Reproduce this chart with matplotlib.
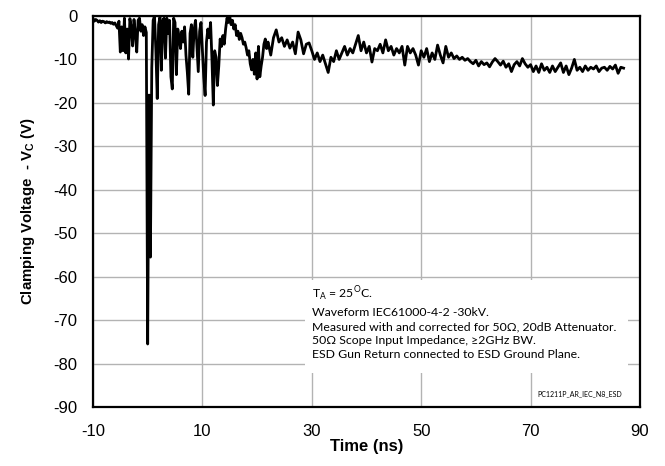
import numpy as np
import matplotlib
matplotlib.use("Agg")
import matplotlib.pyplot as plt
from matplotlib.patches import Rectangle

v_fast = [
    -0.6, -1.2, -0.8, -1.0, -1.4, -1.1, -1.5, -1.2, -1.3, -1.6,
    -1.3, -1.5, -1.4, -1.7, -1.5, -1.9, -1.6, -2.2, -2.8,
    -1.2, -8.3, -2.5, -8.0, -0.5, -8.5, -3.0, -9.9, -0.6, -2.5,
    -6.9, -0.8, -4.0, -8.3, -1.0, -0.5, -3.5, -2.0, -4.5, -2.5, -3.8,
    -75.5, -18.2, -55.5, -12.0, -1.0, 0.0, -8.0, -19.0, -2.0, -0.3,
    -12.5, -1.0, -0.5, -9.7, -0.5, -4.0, -1.0, -14.0, -16.8, -0.5,
    -1.5, -13.5, -3.0, -4.8, -7.5, -3.5, -6.0, -2.5, -9.0, -13.0,
    -18.0, -4.0, -2.0, -9.5, -3.0, -1.0, -7.0, -12.8, -3.5, -1.5,
    -8.0, -14.0, -18.3, -6.0, -3.0, -5.0, -1.5, -10.0, -20.5, -8.0,
    -9.5, -16.0, -11.5, -5.3, -7.0, -4.5, -6.5, -3.0, -0.5, -1.5,
    0.0, -2.0, -1.0, -3.0, -2.0, -4.5, -3.5, -5.4, -4.0, -5.0,
    -6.5, -6.0, -7.3, -9.0, -8.0, -11.0, -12.4, -10.0, -13.4, -8.5,
    -14.5, -7.0, -14.0, -11.5, -9.5, -6.5, -5.3, -7.5, -6.0,
]

# 0.5 ns steps from 22.5 ns to 87 ns
v_slow = [
    -9.0, -5.0, -3.2, -6.0, -5.0, -7.0, -5.5, -7.4, -6.0, -8.7,
    -3.7, -5.5, -8.7, -6.5, -6.2, -8.0, -10.0, -8.5, -10.5, -9.0,
    -11.0, -13.0, -9.5, -10.5, -8.0, -10.0, -8.5, -7.0, -9.0, -7.5,
    -8.5, -6.5, -4.5, -8.0, -6.0, -8.5, -7.0, -10.6, -7.5, -8.0,
    -6.5, -8.5, -5.5, -8.0, -7.0, -9.0, -7.5, -8.5, -7.0, -11.3,
    -7.0, -8.5, -7.5, -9.0, -11.3, -8.0, -9.5, -7.5, -10.5, -8.5,
    -10.0, -6.7, -9.0, -10.8, -7.0, -9.5, -8.5, -9.8, -9.2, -10.0,
    -9.5, -10.2, -9.8, -10.5, -11.0, -10.2, -11.5, -10.5, -11.2, -10.8,
    -11.7, -10.6, -9.8, -10.5, -11.3, -10.4, -11.8, -11.0, -12.8, -11.2,
    -10.5, -11.5, -9.8, -11.0, -11.8, -11.2, -12.8, -11.5, -13.0, -11.0,
    -12.5, -11.8, -13.0, -11.5, -12.8, -11.8, -10.8, -13.0, -11.5, -13.5,
    -12.0, -10.0, -12.5, -11.8, -12.8, -11.5, -12.5, -11.8, -12.2, -11.5,
    -12.8, -12.0, -11.8, -12.5, -11.6, -12.2, -11.3, -13.2, -11.8, -12.0,
]

x_ticks = [-10, 10, 30, 50, 70, 90]
y_ticks = [-90, -80, -70, -60, -50, -40, -30, -20, -10, 0]

notes = [
    r"T$_\mathregular{A}$ = 25$^\mathregular{O}$C.",
    "Waveform IEC61000-4-2 -30kV.",
    "Measured with and corrected for 50\u03a9, 20dB Attenuator.",
    "50\u03a9 Scope Input Impedance, \u22652GHz BW.",
    "ESD Gun Return connected to ESD Ground Plane.",
]
fig_id = "PC1211P_AR_IEC_N8_ESD"

t_fast = -10 + 0.25 * np.arange(len(v_fast))
t_slow = 22.5 + 0.5 * np.arange(len(v_slow))
t = np.concatenate([t_fast, t_slow])
v = np.concatenate([v_fast, v_slow])

plt.rcParams["font.family"] = ["Liberation Sans", "DejaVu Sans"]
plt.rcParams["axes.unicode_minus"] = False

fig = plt.figure(figsize=(6.65, 4.66), dpi=100)
ax = fig.add_axes([0.1398, 0.1266, 0.8226, 0.8391])

ax.plot(t, v, color="black", lw=2.0, zorder=2)

ax.set_xlim(-10, 90)
ax.set_ylim(-90, 0)
ax.set_xticks(x_ticks)
ax.set_yticks(y_ticks)
ax.tick_params(length=0, labelsize=12)
ax.tick_params(axis="y", pad=11)
ax.tick_params(axis="x", pad=12)
ax.grid(True, color="#b3b3b3", lw=1.0, zorder=0)
for s in ax.spines.values():
    s.set_linewidth(1.6)
    s.set_zorder(5)

ax.set_xlabel("Time (ns)", fontsize=12, fontweight="bold", labelpad=0)
ax.set_ylabel(r"Clamping Voltage  - V$_\mathregular{C}$ (V)", fontsize=10.8,
              fontweight="bold", labelpad=12)

# white note box over the grid
ax.add_patch(Rectangle((0.3876, 0.087), 0.5904, 0.238, transform=ax.transAxes,
                       fc="white", ec="none", zorder=3))
ax.text(0.400, 0.313, "\n".join(notes), transform=ax.transAxes, fontsize=8.8,
        family=["Lato", "DejaVu Sans"], linespacing=1.33, va="top", ha="left",
        zorder=4)
ax.text(0.968, 0.025, fig_id, transform=ax.transAxes, fontsize=5,
        family=["Lato", "DejaVu Sans"], ha="right", va="bottom", zorder=4)

fig.savefig("out.png", dpi=100)
